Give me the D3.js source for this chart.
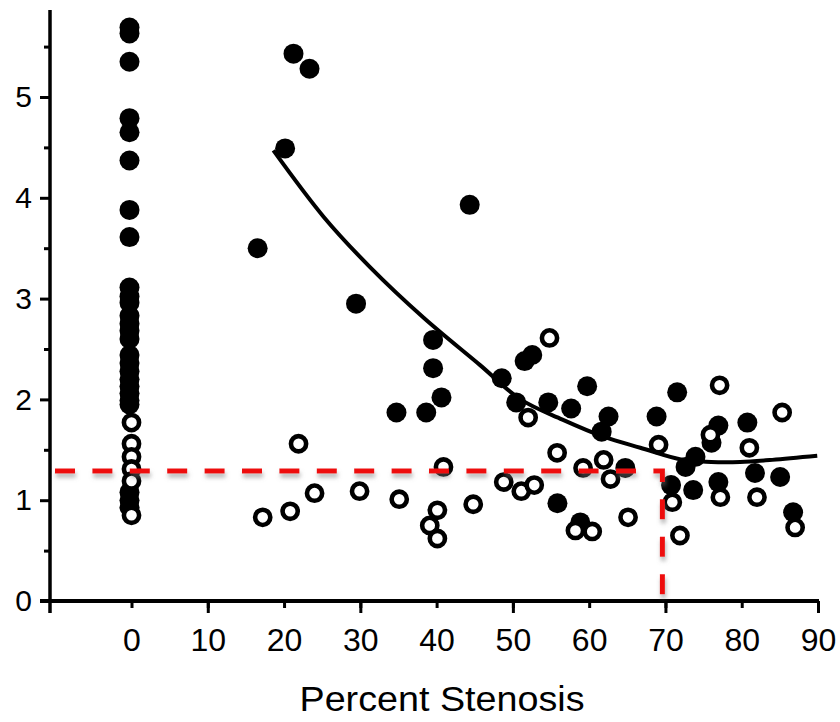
<!DOCTYPE html>
<html>
<head>
<meta charset="utf-8">
<script src="https://cdn.jsdelivr.net/npm/d3@7"></script>
<style>
  html, body { margin: 0; padding: 0; background: #fff; }
  svg { display: block; }
  text { font-family: "Liberation Sans", Arial, Helvetica, sans-serif; fill: #000; }
</style>
</head>
<body>
<svg id="chart" width="840" height="722"></svg>
<script>
// ---- data ----
const xTickLabels = [0, 10, 20, 30, 40, 50, 60, 70, 80, 90];
const xMajorTicks = [10, 30, 50, 70, 90];
const yTickLabels = [0, 1, 2, 3, 4, 5];
const yMinorTicks = [0.5, 1.5, 2.5, 3.5, 4.5, 5.5];
const xAxisTitle = "Percent Stenosis";

// filled circles [percent stenosis, value]
const filledX = [0,0,0,0,0,0,0,0,0,0,0,0,0,0,0,0,0,0,0,0,0,0,0,0,0,0,
  16.8,20.4,21.5,23.6,29.7,44.6,39.8,39.8,40.9,35.0,38.9,48.8,51.8,52.8,50.7,54.9,57.9,60.0,62.8,61.9,65.0,56.1,59.1,
  69.1,71.8,77.2,76.3,74.2,72.9,71.0,73.9,77.2,81.0,82.0,85.3,87.0];
const filledY = [5.69,5.63,5.35,4.79,4.65,4.37,3.88,3.61,3.11,3.02,2.96,2.83,2.75,2.68,2.60,2.44,2.36,2.28,2.20,2.13,2.06,1.99,1.95,1.08,1.00,0.93,
  3.50,4.49,5.43,5.28,2.95,3.93,2.59,2.31,2.02,1.87,1.87,2.21,2.38,2.44,1.97,1.97,1.91,2.13,1.83,1.68,1.32,0.97,0.78,
  1.83,2.07,1.74,1.57,1.43,1.33,1.15,1.10,1.18,1.77,1.27,1.23,0.88];

// open circles [percent stenosis, value]
const openX = [0,0,0,0,0,0,
  21.9,17.2,20.8,24.0,29.9,35.1,40.9,40.1,39.1,40.1,44.8,48.8,51.1,52.8,52.0,54.8,55.8,59.2,61.9,62.8,58.2,60.4,65.1,
  69.1,77.1,75.9,70.9,71.9,77.2,81.0,82.0,85.3,87.0];
const openY = [1.77,1.56,1.43,1.31,1.19,0.85,
  1.56,0.83,0.89,1.07,1.09,1.01,1.33,0.90,0.75,0.62,0.96,1.18,1.09,1.15,1.82,2.61,1.47,1.32,1.40,1.21,0.70,0.69,0.83,
  1.55,2.14,1.65,0.98,0.65,1.03,1.52,1.03,1.87,0.73];

// fitted curve
const curveX = [18.6, 25.2, 31.3, 38.3, 45.7, 51.0, 56.5, 61.9, 66.7, 72.3, 76.0, 79.8, 84.0, 89.9];
const curveY = [4.47, 3.81, 3.31, 2.81, 2.34, 2.00, 1.80, 1.63, 1.52, 1.40, 1.38, 1.38, 1.40, 1.44];

// red cut-off guide
const cutoffX = 69.6;
const cutoffY = 1.29;

// ---- drawing ----
const svg = d3.select("#chart");
const x = d3.scaleLinear().domain([0, 90]).range([131.5, 818]);
const y = d3.scaleLinear().domain([0, 5]).range([601, 97]);
const axisX0 = 50;     // pixel position of y axis line
const yTopVal = y.invert(10);

const defs = svg.append("defs");
const f = defs.append("filter").attr("id", "shadow").attr("x", "-10%").attr("y", "-50%").attr("width", "120%").attr("height", "300%");
f.append("feDropShadow").attr("dx", 1).attr("dy", 4).attr("stdDeviation", 2)
  .attr("flood-color", "#777").attr("flood-opacity", 0.55);

// axes lines
svg.append("line")
  .attr("x1", axisX0).attr("x2", axisX0)
  .attr("y1", y(0) + 12).attr("y2", y(yTopVal))
  .attr("stroke", "#000").attr("stroke-width", 3.5);
svg.append("line")
  .attr("x1", axisX0 - 10).attr("x2", x(90) + 1)
  .attr("y1", y(0)).attr("y2", y(0))
  .attr("stroke", "#000").attr("stroke-width", 4);

// y axis ticks + labels
const gy = svg.append("g").attr("transform", `translate(${axisX0},0)`)
  .call(d3.axisLeft(y).tickValues(yTickLabels).tickSize(10).tickPadding(8).tickFormat(d3.format("d")));
gy.select(".domain").remove();
gy.selectAll("line").attr("stroke", "#000").attr("stroke-width", 3);
gy.selectAll("text").style("font-size", "30px").attr("fill", "#000");
const gyMinor = svg.append("g").attr("transform", `translate(${axisX0},0)`)
  .call(d3.axisLeft(y).tickValues(yMinorTicks).tickSize(6).tickFormat(""));
gyMinor.select(".domain").remove();
gyMinor.selectAll("line").attr("stroke", "#000").attr("stroke-width", 3);

// x axis ticks + labels
const gx = svg.append("g").attr("transform", `translate(0,${y(0)})`)
  .call(d3.axisBottom(x).tickValues(xTickLabels).tickSize(7).tickPadding(20).tickFormat(d3.format("d")));
gx.select(".domain").remove();
gx.selectAll("line").attr("stroke", "#000").attr("stroke-width", 3);
gx.selectAll("text").style("font-size", "32px").attr("fill", "#000");
const gxMajor = svg.append("g").attr("transform", `translate(0,${y(0)})`)
  .call(d3.axisBottom(x).tickValues(xMajorTicks).tickSize(12).tickFormat(""));
gxMajor.select(".domain").remove();
gxMajor.selectAll("line").attr("stroke", "#000").attr("stroke-width", 3);

// axis title
svg.append("text")
  .attr("x", 442).attr("y", 711)
  .attr("text-anchor", "middle")
  .attr("textLength", 285).attr("lengthAdjust", "spacingAndGlyphs")
  .style("font-size", "35px")
  .text(xAxisTitle);

// fitted curve
const curvePts = curveX.map((d, i) => [d, curveY[i]]);
svg.append("path")
  .datum(curvePts)
  .attr("fill", "none").attr("stroke", "#000").attr("stroke-width", 4)
  .attr("d", d3.line().x(d => x(d[0])).y(d => y(d[1])).curve(d3.curveCatmullRom));

// filled points
const filled = filledX.map((d, i) => [d, filledY[i]]);
svg.append("g").selectAll("circle").data(filled).join("circle")
  .attr("cx", d => x(d[0]) - 2).attr("cy", d => y(d[1]))
  .attr("r", 10).attr("fill", "#000");

// open points
const open = openX.map((d, i) => [d, openY[i]]);
svg.append("g").selectAll("circle").data(open).join("circle")
  .attr("cx", d => x(d[0])).attr("cy", d => y(d[1]))
  .attr("r", 7.6).attr("fill", "#fff").attr("stroke", "#000").attr("stroke-width", 4.6);

// red dashed cut-off lines
svg.append("path")
  .attr("d", d3.line()([[axisX0 + 5, y(cutoffY)], [x(cutoffX), y(cutoffY)], [x(cutoffX), y(0) - 2]]))
  .attr("fill", "none").attr("stroke", "#ee1111").attr("stroke-width", 5)
  .attr("stroke-dasharray", "20,17.4")
  .attr("filter", "url(#shadow)");
</script>
</body>
</html>
